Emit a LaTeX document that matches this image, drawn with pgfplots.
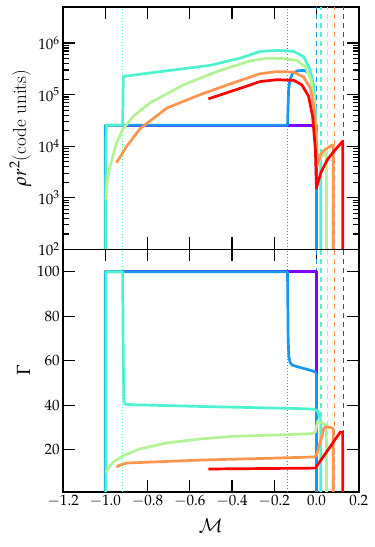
\documentclass[border=0pt]{standalone}
\usepackage{mathpazo}
\usepackage{pgfplots}
\pgfplotsset{compat=1.18}
\usetikzlibrary{calc}
\definecolor{c0}{HTML}{8000FF}
\definecolor{c1}{HTML}{1A96F3}
\definecolor{c2}{HTML}{4DF3CE}
\definecolor{c3}{HTML}{B3F396}
\definecolor{c4}{HTML}{FF964F}
\definecolor{c5}{HTML}{FF0000}

\pgfplotsset{
  panel/.style={
    width=295pt, height=242pt, scale only axis,
    xmin=-1.2, xmax=0.2,
    xtick={-1.2,-1.0,-0.8,-0.6,-0.4,-0.2,0.0,0.2},
    tick align=inside, xtick pos=both, ytick pos=both,
    major tick length=12pt, minor tick length=6pt,
    every tick/.style={black, line width=1.2pt},
    axis line style={line width=1.8pt},
    every tick label/.append style={font=\fontsize{15}{17}\selectfont},
    label style={font=\fontsize{19}{22}\selectfont},
    clip=true,
  },
  crv/.style={line width=2.7pt, line join=round, no markers},
  shockline/.style={line width=1.3pt, dash pattern=on 5pt off 4pt, no markers},
  dotline/.style={line width=1pt, dash pattern=on 1pt off 2pt, no markers},
}

\begin{document}
\begin{tikzpicture}
% top panel: rho r^2
\begin{axis}[panel, name=top, at={(0,0)}, anchor=north west,
  ymode=log, ymin=100, ymax=5e6,
  ytick={1e2,1e3,1e4,1e5,1e6},
  xticklabels={},
  ylabel={$\rho r^2$(code units)},
]
\coordinate (TL) at (rel axis cs:0,1);
% position markers
\addplot[dotline, color=c2] coordinates {(-0.92,1) (-0.92,1e8)};
\addplot[dotline, color=c1] coordinates {(-0.137,1) (-0.137,1e8)};
\addplot[shockline, color=c1] coordinates {(0.0,1) (0.0,1e8)};
\addplot[shockline, color=c2] coordinates {(0.022,1) (0.022,1e8)};
\addplot[shockline, color=c3] coordinates {(0.053,1) (0.053,1e8)};
\addplot[shockline, color=c4] coordinates {(0.084,1) (0.084,1e8)};
\addplot[shockline, color=c5] coordinates {(0.127,1) (0.127,1e8)};
% curves
\addplot[crv, c0] coordinates {(-1.0,10) (-1.0,2.55e4) (0.0,2.55e4) (0.0,10)};
\addplot[crv, c1] coordinates {(-1.0,10) (-1.0,2.55e4) (-0.137,2.55e4) (-0.132,1.2e5)
  (-0.126,1.9e5) (-0.113,2.6e5) (-0.09,2.9e5) (-0.06,2.95e5) (-0.03,2.6e5)
  (-0.012,1.2e5) (-0.003,1.5e4) (0.0,2e3) (0.0,10)};
\addplot[crv, c2] coordinates {(-0.998,10) (-0.998,1.5e3) (-0.996,2.55e4) (-0.918,2.55e4)
  (-0.915,2.2e5) (-0.9,2.3e5) (-0.709,2.9e5) (-0.504,3.7e5) (-0.361,5.1e5)
  (-0.266,6.9e5) (-0.187,7.2e5) (-0.108,6.9e5) (-0.061,5.5e5) (-0.029,3.0e5)
  (-0.013,1.45e5) (-0.005,5e4) (0.002,1.2e4) (0.005,4.5e3) (0.012,6.5e3)
  (0.02,7e3) (0.02,10)};
\addplot[crv, c3] coordinates {(-0.997,930) (-0.991,2.2e3) (-0.978,4.1e3) (-0.947,1.15e4)
  (-0.915,2.2e4) (-0.868,3.8e4) (-0.789,6.9e4) (-0.630,1.55e5) (-0.472,2.8e5)
  (-0.314,4.5e5) (-0.235,5.1e5) (-0.156,5.0e5) (-0.092,4.6e5) (-0.053,3.5e5)
  (-0.026,1.95e5) (-0.010,6.9e4) (0.0,1.35e4) (0.004,4.5e3) (0.02,6e3)
  (0.047,7.5e3) (0.048,10)};
\addplot[crv, c4] coordinates {(-0.947,4.8e3) (-0.923,6.9e3) (-0.899,1.0e4) (-0.835,2.2e4)
  (-0.709,5.5e4) (-0.551,1.0e5) (-0.393,1.7e5) (-0.266,2.55e5) (-0.187,2.8e5)
  (-0.108,2.75e5) (-0.061,2.2e5) (-0.029,1.35e5) (-0.010,5.1e4) (0.0,1.15e4)
  (0.003,4.1e3) (0.02,7e3) (0.042,8.7e3) (0.074,1.05e4) (0.08,1.05e4) (0.08,10)};
\addplot[crv, c5] coordinates {(-0.512,8.3e4) (-0.393,1.2e5) (-0.266,1.8e5) (-0.187,1.95e5)
  (-0.108,1.9e5) (-0.069,1.55e5) (-0.037,9.3e4) (-0.018,3.8e4) (-0.005,8.7e3)
  (0.0,1.55e3) (0.021,3.1e3) (0.053,5.6e3) (0.084,8.1e3) (0.125,1.26e4) (0.125,10)};
\end{axis}

% bottom panel: Gamma
\begin{axis}[panel, name=bot, at={(top.south)}, anchor=north,
  ymin=1, ymax=110,
  ytick={20,40,60,80,100},
  xticklabel style={/pgf/number format/.cd, fixed, fixed zerofill, precision=1},
  xlabel={$\mathcal{M}$},
  xlabel style={yshift=-5pt},
  ylabel={$\Gamma$},
]
\coordinate (BR) at (rel axis cs:1,0);
\addplot[dotline, color=c2] coordinates {(-0.92,-10) (-0.92,200)};
\addplot[dotline, color=c1] coordinates {(-0.137,-10) (-0.137,200)};
\addplot[shockline, color=c1] coordinates {(0.0,-10) (0.0,200)};
\addplot[shockline, color=c2] coordinates {(0.022,-10) (0.022,200)};
\addplot[shockline, color=c3] coordinates {(0.053,-10) (0.053,200)};
\addplot[shockline, color=c4] coordinates {(0.084,-10) (0.084,200)};
\addplot[shockline, color=c5] coordinates {(0.127,-10) (0.127,200)};
\addplot[crv, c0] coordinates {(-1.0,-5) (-1.0,100) (0.0,100) (0.0,-5)};
\addplot[crv, c1] coordinates {(-1.0,-5) (-1.0,100) (-0.137,100) (-0.134,70) (-0.131,62)
  (-0.125,59.3) (-0.115,58.0) (-0.08,57.0) (-0.04,56.0) (-0.005,55.0) (0.0,54) (0.0,-5)};
\addplot[crv, c2] coordinates {(-0.997,-5) (-0.997,100) (-0.918,100) (-0.915,60)
  (-0.912,42) (-0.905,40.5) (-0.88,40.2) (-0.5,39.3) (-0.1,38.5) (-0.01,38.2)
  (0.006,37.3) (0.013,35.5) (0.02,33) (0.02,-5)};
\addplot[crv, c3] coordinates {(-0.997,9.5) (-0.986,11.7) (-0.963,14.3) (-0.915,17.3)
  (-0.836,20.3) (-0.709,23.0) (-0.551,24.8) (-0.393,26.0) (-0.156,26.7)
  (-0.021,27.2) (-0.005,27.9) (0.006,32.7) (0.026,32.0) (0.047,31.1) (0.048,-5)};
\addplot[crv, c4] coordinates {(-0.947,12.2) (-0.928,13.1) (-0.899,14.0) (-0.867,14.1)
  (-0.551,15.3) (-0.235,16.1) (-0.013,16.7) (0.0,17.3) (0.035,29.5) (0.045,30.3)
  (0.075,29.8) (0.08,29.3) (0.08,-5)};
\addplot[crv, c5] coordinates {(-0.512,11.3) (-0.005,11.7) (0.113,27.9) (0.124,27.8)
  (0.125,-5)};
\end{axis}
\pgfresetboundingbox
\useasboundingbox ($(TL)+(-63pt,7pt)$) rectangle ($(BR)+(16pt,-55pt)$);
\end{tikzpicture}
\end{document}
